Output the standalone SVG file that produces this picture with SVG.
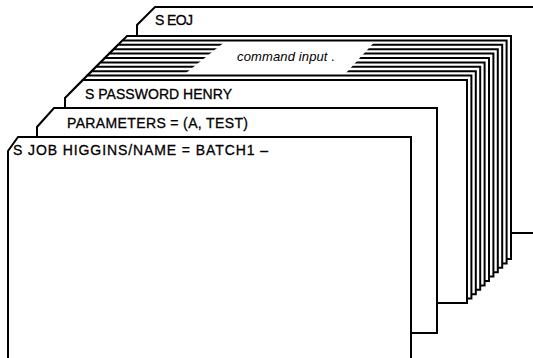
<svg xmlns="http://www.w3.org/2000/svg" xmlns:xlink="http://www.w3.org/1999/xlink" width="533" height="358" viewBox="0 0 533 358">
  <style>
    .card { fill: #fff; stroke: #000; stroke-width: 2; stroke-linejoin: miter; }
    .lbl { font-family: "Liberation Sans", Arial, Helvetica, sans-serif; font-size: 14px; fill: #000; stroke: #000; stroke-width: 0.3; }
    .cmd { font-family: "Liberation Sans", Arial, Helvetica, sans-serif; font-size: 13px; font-style: italic; fill: #000; }
  </style>
  <defs>
    <!-- basic card outline with clipped top-left corner -->
    <path id="deck-card" class="card" d="M65,303 V98 L83,80 H467 V303 Z"/>
  </defs>
  <rect width="533" height="358" fill="#fff"/>

  <!-- last card of the deck -->
  <g id="card-eoj">
    <path class="card" d="M137,233 V25 L155,7 H545 V233 Z"/>
    <text class="lbl" x="155" y="25" textLength="38" lengthAdjust="spacing">S EOJ</text>
  </g>

  <!-- stack of command input cards -->
  <g id="card-command-input">
    <use xlink:href="#deck-card" transform="translate(44,-44)"/>
    <use xlink:href="#deck-card" transform="translate(39.6,-39.6)"/>
    <use xlink:href="#deck-card" transform="translate(35.2,-35.2)"/>
    <use xlink:href="#deck-card" transform="translate(30.8,-30.8)"/>
    <use xlink:href="#deck-card" transform="translate(26.4,-26.4)"/>
    <use xlink:href="#deck-card" transform="translate(22,-22)"/>
    <use xlink:href="#deck-card" transform="translate(17.6,-17.6)"/>
    <use xlink:href="#deck-card" transform="translate(13.2,-13.2)"/>
    <use xlink:href="#deck-card" transform="translate(8.8,-8.8)"/>
    <use xlink:href="#deck-card" transform="translate(4.4,-4.4)"/>
    <polygon points="224,42.5 374,42.5 346,73 186,73" fill="#fff"/>
    <text class="cmd" x="237" y="61" textLength="98" lengthAdjust="spacing">command input .</text>
  </g>

  <g id="card-password">
    <use xlink:href="#deck-card"/>
    <text class="lbl" x="85" y="99" textLength="147" lengthAdjust="spacing">S PASSWORD HENRY</text>
  </g>

  <g id="card-parameters">
    <path class="card" d="M37,333 V127 L54,108 H437 V333 Z"/>
    <text class="lbl" x="67" y="128" textLength="181" lengthAdjust="spacing">PARAMETERS = (A, TEST)</text>
  </g>

  <g id="card-job">
    <path class="card" d="M8,365 V151 L18,137 H411 V365 Z"/>
    <text class="lbl" x="13" y="155" textLength="255" lengthAdjust="spacing">S JOB HIGGINS/NAME = BATCH1 –</text>
  </g>

  <g id="connectors"/>
</svg>
